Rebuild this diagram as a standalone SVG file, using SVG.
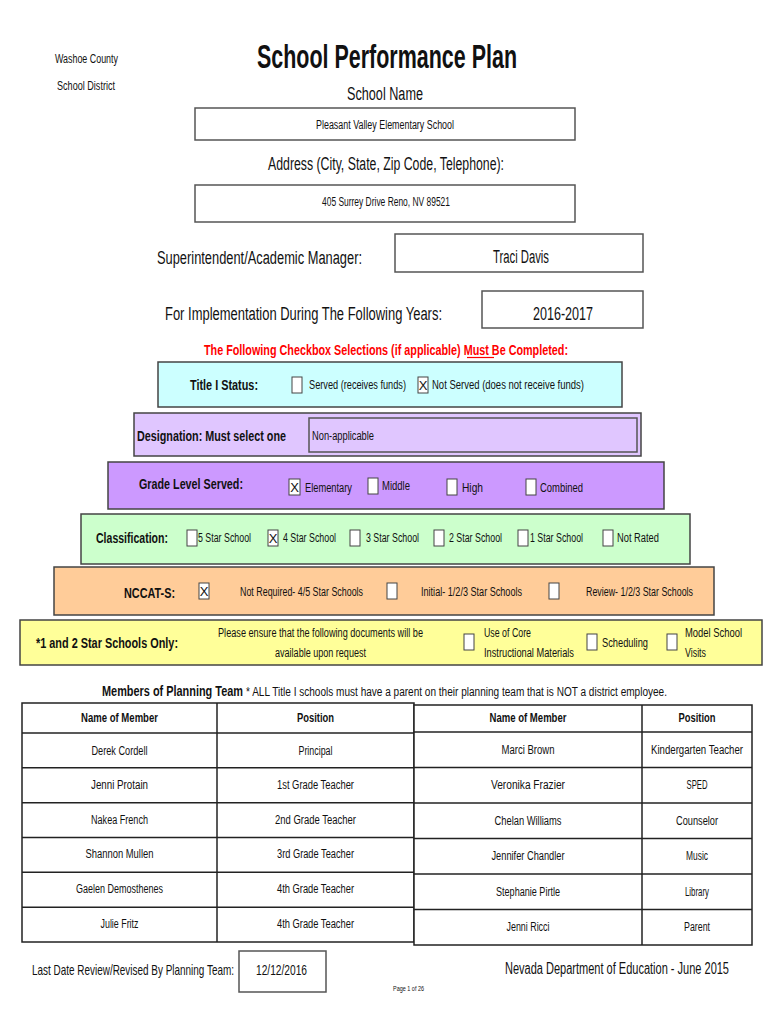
<svg xmlns="http://www.w3.org/2000/svg" width="770" height="1024" viewBox="0 0 770 1024">
<style>
text{font-family:"Liberation Sans",Arial,sans-serif;fill:#111;}
.b{font-weight:bold;}
.s12{font-size:12px;}
.s15{font-size:15px;}
.s18{font-size:18px;}
.m{text-anchor:middle;}
.box{fill:#fff;stroke:#555;stroke-width:1.5;}
.band{stroke:#444;stroke-width:1.5;}
.cb{fill:#fff;stroke:#444;stroke-width:1;}
.cx{font-size:13px;text-anchor:middle;}
.tl{fill:#fff;stroke:#222;stroke-width:1.5;}
.ln{stroke:#222;stroke-width:1.5;}
</style>
<rect width="770" height="1024" fill="#fff"/>

<g id="header">
<text x="55" y="63" class="s12" textLength="63" lengthAdjust="spacingAndGlyphs">Washoe County</text>
<text x="57" y="90" class="s12" textLength="58" lengthAdjust="spacingAndGlyphs">School District</text>
<text x="257" y="68" class="b" font-size="34" textLength="260" lengthAdjust="spacingAndGlyphs">School Performance Plan</text>
</g>

<g id="school-name">
<text x="347" y="100" class="s18" textLength="76" lengthAdjust="spacingAndGlyphs">School Name</text>
<rect x="195" y="108" width="380" height="32" class="box"/>
<text x="316" y="129" class="s12" textLength="138" lengthAdjust="spacingAndGlyphs">Pleasant Valley Elementary School</text>
</g>

<g id="address">
<text x="268" y="170" class="s18" textLength="236" lengthAdjust="spacingAndGlyphs">Address (City, State, Zip Code, Telephone):</text>
<rect x="195" y="185" width="380" height="37" class="box"/>
<text x="322" y="206" class="s12" textLength="128" lengthAdjust="spacingAndGlyphs">405 Surrey Drive Reno, NV 89521</text>
</g>

<g id="superintendent">
<text x="157" y="264" class="s18" textLength="205" lengthAdjust="spacingAndGlyphs">Superintendent/Academic Manager:</text>
<rect x="395" y="234" width="248" height="38" class="box"/>
<text x="493" y="263" class="s18" textLength="56" lengthAdjust="spacingAndGlyphs">Traci Davis</text>
</g>

<g id="years">
<text x="165" y="320" class="s18" textLength="277" lengthAdjust="spacingAndGlyphs">For Implementation During The Following Years:</text>
<rect x="482" y="291" width="161" height="37" class="box"/>
<text x="533" y="320" class="s18" textLength="60" lengthAdjust="spacingAndGlyphs">2016-2017</text>
</g>

<g id="checkbox-note">
<text x="204" y="355" class="b" font-size="14" style="fill:#ff0000" textLength="364" lengthAdjust="spacingAndGlyphs">The Following Checkbox Selections (if applicable) Must Be Completed:</text>
<line x1="467" y1="357.5" x2="494" y2="357.5" stroke="#ff0000" stroke-width="1.2"/>
</g>

<g id="title-i">
<rect x="158" y="362" width="464" height="45" fill="#ccffff" class="band"/>
<text x="190" y="390" class="b s15" textLength="68" lengthAdjust="spacingAndGlyphs">Title I Status:</text>
<rect x="292" y="377" width="10" height="16" class="cb"/>
<text x="309" y="389" class="s12" textLength="97" lengthAdjust="spacingAndGlyphs">Served   (receives funds)</text>
<rect x="418" y="377" width="10" height="16" class="cb"/>
<text x="423" y="390" class="cx">X</text>
<text x="432" y="389" class="s12" textLength="152" lengthAdjust="spacingAndGlyphs">Not Served    (does not receive funds)</text>
</g>

<g id="designation">
<rect x="134" y="413" width="507" height="43" fill="#e0c6ff" class="band"/>
<text x="137" y="441" class="b s15" textLength="149" lengthAdjust="spacingAndGlyphs">Designation: Must select one</text>
<rect x="309" y="418" width="328" height="34" fill="#e0c6ff" stroke="#555" stroke-width="1.5"/>
<text x="312" y="440" class="s12" textLength="62" lengthAdjust="spacingAndGlyphs">Non-applicable</text>
</g>

<g id="grade-level">
<rect x="108" y="462" width="556" height="47" fill="#cc99ff" class="band"/>
<text x="139" y="489" class="b s15" textLength="104" lengthAdjust="spacingAndGlyphs">Grade Level Served:</text>
<rect x="289" y="479" width="11" height="16" class="cb"/>
<text x="294.5" y="492" class="cx">X</text>
<text x="305" y="492" class="s12" textLength="47" lengthAdjust="spacingAndGlyphs">Elementary</text>
<rect x="368" y="478" width="10" height="16" class="cb"/>
<text x="382" y="490" class="s12" textLength="28" lengthAdjust="spacingAndGlyphs">Middle</text>
<rect x="447" y="479" width="10" height="16" class="cb"/>
<text x="462" y="492" class="s12" textLength="21" lengthAdjust="spacingAndGlyphs">High</text>
<rect x="526" y="479" width="10" height="16" class="cb"/>
<text x="540" y="492" class="s12" textLength="43" lengthAdjust="spacingAndGlyphs">Combined</text>
</g>

<g id="classification">
<rect x="81" y="514" width="609" height="50" fill="#ccffcc" class="band"/>
<text x="96" y="543" class="b s15" textLength="72" lengthAdjust="spacingAndGlyphs">Classification:</text>
<rect x="187" y="530" width="10" height="16" class="cb"/>
<text x="198" y="542" class="s12" textLength="53" lengthAdjust="spacingAndGlyphs">5 Star School</text>
<rect x="268" y="530" width="10" height="16" class="cb"/>
<text x="273" y="543" class="cx">X</text>
<text x="283" y="542" class="s12" textLength="53" lengthAdjust="spacingAndGlyphs">4 Star School</text>
<rect x="350" y="530" width="10" height="16" class="cb"/>
<text x="366" y="542" class="s12" textLength="53" lengthAdjust="spacingAndGlyphs">3 Star School</text>
<rect x="434" y="530" width="10" height="16" class="cb"/>
<text x="449" y="542" class="s12" textLength="53" lengthAdjust="spacingAndGlyphs">2 Star School</text>
<rect x="518" y="530" width="10" height="16" class="cb"/>
<text x="530" y="542" class="s12" textLength="53" lengthAdjust="spacingAndGlyphs">1 Star School</text>
<rect x="603" y="530" width="10" height="16" class="cb"/>
<text x="617" y="542" class="s12" textLength="42" lengthAdjust="spacingAndGlyphs">Not Rated</text>
</g>

<g id="nccat-s">
<rect x="54" y="567" width="660" height="48" fill="#ffcc99" class="band"/>
<text x="124" y="598" class="b s15" textLength="51" lengthAdjust="spacingAndGlyphs">NCCAT-S:</text>
<rect x="199" y="583" width="10" height="16" class="cb"/>
<text x="204" y="596" class="cx">X</text>
<text x="240" y="596" class="s12" textLength="123" lengthAdjust="spacingAndGlyphs">Not Required- 4/5 Star Schools</text>
<rect x="387" y="583" width="10" height="16" class="cb"/>
<text x="421" y="596" class="s12" textLength="101" lengthAdjust="spacingAndGlyphs">Initial- 1/2/3 Star Schools</text>
<rect x="549" y="583" width="10" height="16" class="cb"/>
<text x="586" y="596" class="s12" textLength="107" lengthAdjust="spacingAndGlyphs">Review- 1/2/3 Star Schools</text>
</g>

<g id="star-schools">
<rect x="20" y="620" width="742" height="45" fill="#ffff99" class="band"/>
<text x="36" y="648" class="b s15" textLength="142" lengthAdjust="spacingAndGlyphs">*1 and 2 Star Schools Only:</text>
<text x="218" y="637" class="s12" textLength="205" lengthAdjust="spacingAndGlyphs">Please ensure that the following documents will be</text>
<text x="275" y="657" class="s12" textLength="91" lengthAdjust="spacingAndGlyphs">available upon request</text>
<rect x="464" y="634" width="10" height="16" class="cb"/>
<text x="484" y="637" class="s12" textLength="47" lengthAdjust="spacingAndGlyphs">Use of Core</text>
<text x="484" y="657" class="s12" textLength="90" lengthAdjust="spacingAndGlyphs">Instructional Materials</text>
<rect x="587" y="634" width="10" height="16" class="cb"/>
<text x="602" y="647" class="s12" textLength="46" lengthAdjust="spacingAndGlyphs">Scheduling</text>
<rect x="667" y="634" width="10" height="16" class="cb"/>
<text x="685" y="637" class="s12" textLength="57" lengthAdjust="spacingAndGlyphs">Model School</text>
<text x="685" y="657" class="s12" textLength="21" lengthAdjust="spacingAndGlyphs">Visits</text>
</g>

<g id="planning-team-title">
<text x="102" y="696" class="b" font-size="14" textLength="141" lengthAdjust="spacingAndGlyphs">Members of Planning Team</text>
<text x="246" y="696" class="s12" textLength="421" lengthAdjust="spacingAndGlyphs">* ALL Title I schools must have a parent on their planning team that is NOT a district employee.</text>
</g>

<g id="table-left">
<rect x="22" y="703" width="392" height="239" class="tl"/>
<line x1="217" y1="703" x2="217" y2="942" class="ln"/>
<line x1="22" y1="733" x2="414" y2="733" class="ln"/>
<line x1="22" y1="767.8" x2="414" y2="767.8" class="ln"/>
<line x1="22" y1="802.7" x2="414" y2="802.7" class="ln"/>
<line x1="22" y1="837.5" x2="414" y2="837.5" class="ln"/>
<line x1="22" y1="872.3" x2="414" y2="872.3" class="ln"/>
<line x1="22" y1="907.2" x2="414" y2="907.2" class="ln"/>
<text x="119.5" y="722" class="b s12 m" textLength="77" lengthAdjust="spacingAndGlyphs">Name of Member</text>
<text x="315.5" y="722" class="b s12 m" textLength="37" lengthAdjust="spacingAndGlyphs">Position</text>
<text x="119.5" y="755" class="s12 m" textLength="56" lengthAdjust="spacingAndGlyphs">Derek Cordell</text>
<text x="315.5" y="755" class="s12 m" textLength="34" lengthAdjust="spacingAndGlyphs">Principal</text>
<text x="119.5" y="789" class="s12 m" textLength="57" lengthAdjust="spacingAndGlyphs">Jenni Protain</text>
<text x="315.5" y="789" class="s12 m" textLength="77" lengthAdjust="spacingAndGlyphs">1st Grade Teacher</text>
<text x="119.5" y="824" class="s12 m" textLength="57" lengthAdjust="spacingAndGlyphs">Nakea French</text>
<text x="315.5" y="824" class="s12 m" textLength="81" lengthAdjust="spacingAndGlyphs">2nd Grade Teacher</text>
<text x="119.5" y="858" class="s12 m" textLength="68" lengthAdjust="spacingAndGlyphs">Shannon Mullen</text>
<text x="315.5" y="858" class="s12 m" textLength="77" lengthAdjust="spacingAndGlyphs">3rd Grade Teacher</text>
<text x="119.5" y="893" class="s12 m" textLength="87" lengthAdjust="spacingAndGlyphs">Gaelen Demosthenes</text>
<text x="315.5" y="893" class="s12 m" textLength="77" lengthAdjust="spacingAndGlyphs">4th Grade Teacher</text>
<text x="119.5" y="928" class="s12 m" textLength="38" lengthAdjust="spacingAndGlyphs">Julie Fritz</text>
<text x="315.5" y="928" class="s12 m" textLength="77" lengthAdjust="spacingAndGlyphs">4th Grade Teacher</text>
</g>

<g id="table-right">
<rect x="414" y="705" width="338" height="240" class="tl"/>
<line x1="642" y1="705" x2="642" y2="945" class="ln"/>
<line x1="414" y1="732" x2="752" y2="732" class="ln"/>
<line x1="414" y1="767.5" x2="752" y2="767.5" class="ln"/>
<line x1="414" y1="803" x2="752" y2="803" class="ln"/>
<line x1="414" y1="838.5" x2="752" y2="838.5" class="ln"/>
<line x1="414" y1="874" x2="752" y2="874" class="ln"/>
<line x1="414" y1="909.5" x2="752" y2="909.5" class="ln"/>
<text x="528" y="722" class="b s12 m" textLength="77" lengthAdjust="spacingAndGlyphs">Name of Member</text>
<text x="697" y="722" class="b s12 m" textLength="37" lengthAdjust="spacingAndGlyphs">Position</text>
<text x="528" y="754" class="s12 m" textLength="53" lengthAdjust="spacingAndGlyphs">Marci Brown</text>
<text x="697" y="754" class="s12 m" textLength="92" lengthAdjust="spacingAndGlyphs">Kindergarten Teacher</text>
<text x="528" y="789" class="s12 m" textLength="74" lengthAdjust="spacingAndGlyphs">Veronika Frazier</text>
<text x="697" y="789" class="s12 m" textLength="21" lengthAdjust="spacingAndGlyphs">SPED</text>
<text x="528" y="825" class="s12 m" textLength="67" lengthAdjust="spacingAndGlyphs">Chelan Williams</text>
<text x="697" y="825" class="s12 m" textLength="42" lengthAdjust="spacingAndGlyphs">Counselor</text>
<text x="528" y="860" class="s12 m" textLength="73" lengthAdjust="spacingAndGlyphs">Jennifer Chandler</text>
<text x="697" y="860" class="s12 m" textLength="22" lengthAdjust="spacingAndGlyphs">Music</text>
<text x="528" y="896" class="s12 m" textLength="64" lengthAdjust="spacingAndGlyphs">Stephanie Pirtle</text>
<text x="697" y="896" class="s12 m" textLength="24" lengthAdjust="spacingAndGlyphs">Library</text>
<text x="528" y="931" class="s12 m" textLength="43" lengthAdjust="spacingAndGlyphs">Jenni Ricci</text>
<text x="697" y="931" class="s12 m" textLength="26" lengthAdjust="spacingAndGlyphs">Parent</text>
</g>

<g id="footer">
<text x="32" y="975" font-size="15" textLength="202" lengthAdjust="spacingAndGlyphs">Last Date Review/Revised By Planning Team:</text>
<rect x="239" y="951" width="87" height="41" class="box"/>
<text x="256" y="975" font-size="15" textLength="51" lengthAdjust="spacingAndGlyphs">12/12/2016</text>
<text x="505" y="974" font-size="16" textLength="224" lengthAdjust="spacingAndGlyphs">Nevada Department of Education - June 2015</text>
<text x="393" y="991" font-size="7" textLength="31" lengthAdjust="spacingAndGlyphs">Page 1 of 26</text>
</g>
</svg>
